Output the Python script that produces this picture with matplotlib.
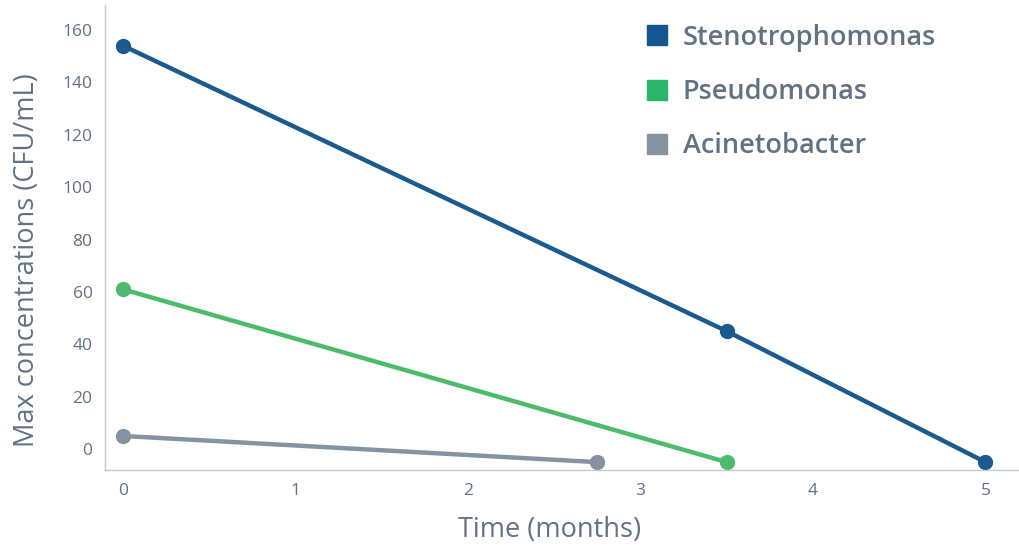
import matplotlib.pyplot as plt
from matplotlib.lines import Line2D

# data
steno_x = [0, 3.5, 5]
steno_y = [154, 45, -5]
pseudo_x = [0, 3.5]
pseudo_y = [61, -5]
acine_x = [0, 2.75]
acine_y = [5, -5]

names = ["Stenotrophomonas", "Pseudomonas", "Acinetobacter"]
line_colors = ["#1b5a8e", "#4cbb6c", "#8493a2"]
box_colors = ["#14568f", "#2bb56a", "#8592a0"]
txt = "#607283"

plt.rcParams['font.family'] = ['Open Sans', 'DejaVu Sans']

fig = plt.figure(figsize=(10.2, 5.45), dpi=100)
ax = fig.add_axes([0.103, 0.1376, 0.897, 0.853])

for xs, ys, c in zip([steno_x, pseudo_x, acine_x], [steno_y, pseudo_y, acine_y], line_colors):
    ax.plot(xs, ys, color=c, lw=3.2, marker='o', ms=10, solid_capstyle='round')

ax.set_xlim(-0.104, 5.2)
ax.set_ylim(-8, 169.5)
ax.set_xticks(range(6))
ax.set_yticks(range(0, 161, 20))
for s in ['top', 'right']:
    ax.spines[s].set_visible(False)
for s in ['left', 'bottom']:
    ax.spines[s].set_color('#c4cad0')
    ax.spines[s].set_linewidth(1)
ax.tick_params(length=0, colors=txt, labelsize=12.5, pad=9)
ax.set_xlabel("Time (months)", fontsize=19.5, color=txt)
ax.xaxis.set_label_coords(0.486, -0.1)
ax.set_ylabel("Max concentrations (CFU/mL)", fontsize=19.5, color=txt)
ax.yaxis.set_label_coords(-0.07, 0.452)

handles = [Line2D([], [], ls='', marker='s', ms=15, color=c) for c in box_colors]
leg = ax.legend(handles, names, loc='upper left', bbox_to_anchor=(0.562, 1.012),
                frameon=False, labelspacing=0.97, handletextpad=0.45, handlelength=1.0,
                prop={'size': 19.5, 'weight': 'semibold'})
for t in leg.get_texts():
    t.set_color(txt)

fig.savefig("out.png", dpi=100)
